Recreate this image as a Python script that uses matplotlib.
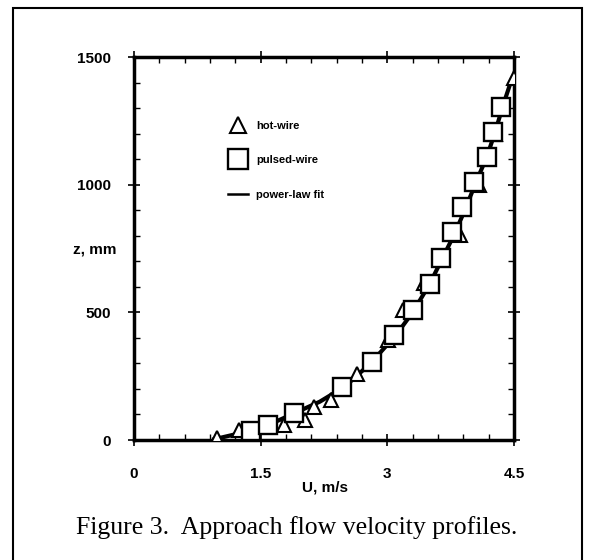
import matplotlib
matplotlib.use("Agg")
import matplotlib.pyplot as plt
from matplotlib.patches import Rectangle
from matplotlib.ticker import MultipleLocator

# pulsed-wire measurements (U in m/s, z in mm)
pulsed_u = [1.39, 1.59, 1.90, 2.46, 2.82, 3.08, 3.30, 3.50, 3.63, 3.77, 3.89, 4.03, 4.18, 4.25, 4.35]
pulsed_z = [35, 58, 107, 207, 305, 411, 508, 611, 713, 813, 911, 1010, 1107, 1205, 1305]

# hot-wire measurements
hot_u = [0.98, 1.24, 1.78, 2.02, 2.13, 2.33, 2.64, 3.01, 3.19, 3.43, 3.86, 4.08, 4.28, 4.50]
hot_z = [8, 38, 58, 80, 128, 156, 260, 393, 511, 615, 804, 998, 1200, 1416]

# power-law fit
fit_u = [0.95, 1.30, 1.60, 1.90, 2.20, 2.50, 2.80, 3.10, 3.30, 3.50, 3.65, 3.80, 3.93, 4.05, 4.18, 4.28, 4.37, 4.47]
fit_z = [3, 30, 60, 105, 150, 210, 300, 410, 500, 610, 710, 810, 910, 1010, 1110, 1210, 1310, 1410]

x_ticks = [0, 1.5, 3, 4.5]
x_ticklabels = ["0", "1.5", "3", "4.5"]
y_ticks = [0, 500, 1000, 1500]

plt.rcParams['font.family'] = ['Liberation Sans', 'DejaVu Sans']

fig = plt.figure(figsize=(5.9, 5.6), dpi=100)
W, H = 590, 560
ax = fig.add_axes([134 / W, 1 - 440 / H, 380 / W, 383 / H])

ax.plot(fit_u, fit_z, color='black', lw=3, zorder=2, label='power-law fit')
ax.plot(hot_u, hot_z, ls='none', marker='^', ms=10, mfc='white', mec='black', mew=1.5,
        zorder=3, label='hot-wire')
ax.plot(pulsed_u, pulsed_z, ls='none', marker='s', ms=12.5, mfc='white', mec='black', mew=1.7,
        zorder=4, label='pulsed-wire')

ax.set_xlim(0, 4.5)
ax.set_ylim(0, 1500)
ax.set_xticks(x_ticks)
ax.set_xticklabels(x_ticklabels)
ax.set_yticks(y_ticks)
ax.xaxis.set_minor_locator(MultipleLocator(0.3))
ax.yaxis.set_minor_locator(MultipleLocator(100))
for s in ax.spines.values():
    s.set_linewidth(2.5)
ax.tick_params(which='major', direction='inout', length=9, width=1.2,
               top=True, right=True, labelsize=11)
ax.tick_params(which='minor', direction='in', length=4, width=1,
               top=True, right=True)
ax.tick_params(axis='x', which='major', pad=15)
ax.tick_params(axis='y', which='major', pad=12)
for t in ax.get_xticklabels() + ax.get_yticklabels():
    t.set_fontweight('bold')

h, l = ax.get_legend_handles_labels()
order = [1, 2, 0]
leg = ax.legend([h[i] for i in order], [l[i] for i in order], loc='upper left',
                bbox_to_anchor=(0.22, 0.86), frameon=False,
                prop={'size': 8, 'weight': 'bold'}, markerscale=1.1,
                handlelength=1.8, handletextpad=0.8, labelspacing=2.2)
for line in leg.get_lines():
    line.set_linewidth(1.8)

fig.text(325 / W, 1 - 488 / H, "U, m/s", ha='center', va='center', fontsize=11, fontweight='bold')
fig.text(95 / W, 1 - 250 / H, "z, mm", ha='center', va='center', fontsize=11, fontweight='bold')

fig.text(297 / W, 1 - 528 / H, "Figure 3.  Approach flow velocity profiles.",
         ha='center', va='center', fontsize=18.5, family='Liberation Serif')

fig.patches.append(Rectangle((13 / W, -0.05), (582 - 13) / W, 1.05 - 8 / H,
                             transform=fig.transFigure, fill=False, lw=1.5,
                             edgecolor='black'))

fig.savefig("out.png", dpi=100)
